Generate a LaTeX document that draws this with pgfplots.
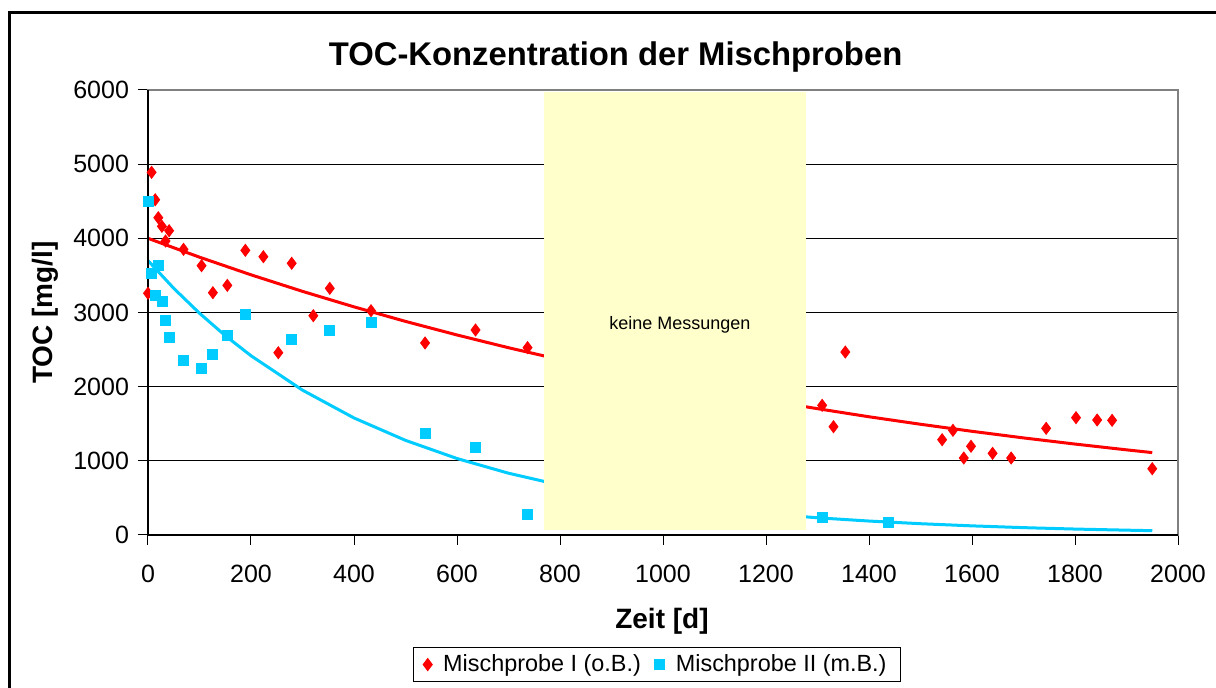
\documentclass[border=0pt]{standalone}
\usepackage{fontspec}
\setmainfont{Liberation Sans}
\usepackage{pgfplots}
\pgfplotsset{compat=1.18}
\definecolor{rd}{RGB}{255,0,0}
\definecolor{bl}{RGB}{0,204,255}
\definecolor{yel}{RGB}{255,255,204}
\definecolor{gr}{RGB}{128,128,128}
\begin{document}
\begin{tikzpicture}
\useasboundingbox (0,0) rectangle (608pt,344pt);
\fill[white] (0,0) rectangle (608pt,344pt);
\draw[line width=1.5pt] (4.5pt,-20pt) -- (4.5pt,337.5pt) -- (630pt,337.5pt);
\begin{axis}[
  at={(74pt,76.5pt)}, anchor=south west, scale only axis,
  width=515pt, height=222.5pt,
  xmin=0, xmax=2000, ymin=0, ymax=6000,
  xtick={0,200,...,2000}, ytick={0,1000,...,6000},
  xtick pos=bottom, ytick pos=left,
  tick align=outside, major tick length=5pt,
  tick style={black, line width=0.5pt},
  ymajorgrids, major grid style={black, line width=0.5pt},
  axis line style={gr, line width=0.6pt},
  clip=false,
  ticklabel style={font=\fontsize{12.5}{15}\selectfont},
  xticklabel style={yshift=-6.5pt},
  yticklabel style={xshift=-1pt},
  /pgf/number format/assume math mode=true,
  /pgf/number format/1000 sep={},
  title={TOC-Konzentration der Mischproben},
  title style={font=\bfseries\fontsize{16.4}{19}\selectfont, at={(0.454,1.074)}, anchor=center, yshift=-6pt},
  xlabel={Zeit [d]},
  xlabel style={font=\bfseries\fontsize{14}{17}\selectfont, at={(0.499,-0.193)}, anchor=center},
  ylabel={TOC [mg/l]},
  ylabel style={font=\bfseries\fontsize{14}{17}\selectfont, at={(-0.1,0.5)}, anchor=center},
  legend columns=2,
  legend image code/.code={\draw[#1] plot coordinates {(0pt,0pt)};},
  legend style={at={(0.257,-0.252)}, anchor=north west, draw=black, line width=0.5pt,
    font=\fontsize{11.7}{13}\selectfont, inner xsep=5pt, inner ysep=1.5pt,
    /tikz/every odd column/.append style={column sep=3.5pt},
    /tikz/every even column/.append style={column sep=5pt}},
]
\addplot[rd, line width=1.5pt, forget plot] coordinates {
(0,4000)(100,3746)(200,3508)(300,3285)(400,3076)(500,2880)(600,2697)(700,2525)
(800,2365)(900,2214)(1000,2074)(1100,1942)(1200,1818)(1300,1703)(1400,1594)
(1500,1493)(1600,1398)(1700,1309)(1800,1226)(1900,1148)(1950,1111)};
\addplot[bl, line width=1.5pt, forget plot] coordinates {
(0,3700)(50,3326)(100,2990)(150,2688)(200,2417)(300,1953)(400,1578)(500,1276)
(600,1031)(700,833)(800,673)(900,544)(1000,440)(1100,355)(1200,287)(1300,232)
(1400,188)(1500,152)(1600,123)(1700,99)(1800,80)(1900,65)(1950,58)};
\addplot[only marks, mark=diamond*, mark size=3pt, color=rd, mark options={fill=rd, draw=rd}] coordinates {
(0,3259)(7,4890)(14,4520)(20,4278)(27,4162)(34,3964)(41,4103)(69,3852)(104,3631)
(126,3267)(154,3366)(189,3838)(224,3752)(253,2458)(279,3663)(321,2957)(353,3326)
(433,3024)(538,2589)(636,2764)(737,2526)(1309,1748)(1331,1460)(1354,2467)
(1542,1285)(1563,1411)(1584,1038)(1598,1196)(1640,1101)(1676,1038)(1744,1438)
(1802,1582)(1843,1550)(1872,1546)(1950,894)};
\addlegendentry{Mischprobe I (o.B.)}
\addplot[only marks, mark=square*, mark size=2.5pt, color=bl, mark options={fill=bl, draw=bl}] coordinates {
(0,4503)(6,3532)(14,3227)(21,3631)(27,3155)(34,2899)(41,2666)(69,2360)(104,2248)
(126,2431)(154,2697)(189,2976)(279,2639)(353,2760)(433,2863)(538,1371)(636,1182)
(737,283)(1309,233)(1437,166)};
\addlegendentry{Mischprobe II (m.B.)}
\fill[yel] (axis cs:769,67) rectangle (axis cs:1278,5973);
\node[font=\fontsize{9}{11}\selectfont] at (axis cs:1033,2831) {keine Messungen};
\draw[black, line width=0.6pt] (rel axis cs:0,1) -- (rel axis cs:0,0) -- (rel axis cs:1,0);
\end{axis}
\end{tikzpicture}
\end{document}
